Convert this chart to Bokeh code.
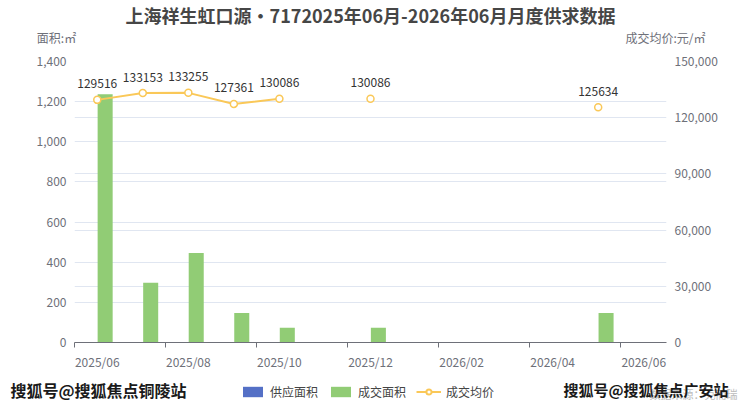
from bokeh.plotting import figure
from bokeh.layouts import column
from bokeh.models import (ColumnDataSource, Range1d, LinearAxis, FixedTicker, NumeralTickFormatter,
                          Grid, Label, Legend, LegendItem)
from bokeh.core.properties import value
from bokeh.transform import dodge
from bokeh.embed import file_html
from bokeh.resources import INLINE

months = ["2025/06", "2025/07", "2025/08", "2025/09", "2025/10", "2025/11", "2025/12",
          "2026/01", "2026/02", "2026/03", "2026/04", "2026/05", "2026/06"]
supply_area = [0, 0, 0, 0, 0, 0, 0, 0, 0, 0, 0, 0, 0]
deal_area = [1237, 298, 446, 147, 73, 0, 73, 0, 0, 0, 0, 147, 0]
avg_price = [129516, 133153, 133255, 127361, 130086, None, 130086, None, None, None, None, 125634, None]
left_ticks = [0, 200, 400, 600, 800, 1000, 1200, 1400]
right_ticks = [0, 30000, 60000, 90000, 120000, 150000]

TITLE = "上海祥生虹口源•7172025年06月-2026年06月月度供求数据"
LEFT_NAME = "面积:㎡"
RIGHT_NAME = "成交均价:元/㎡"
SERIES = ["供应面积", "成交面积", "成交均价"]
WM_LEFT = "搜狐号@搜狐焦点铜陵站"
WM_RIGHT = "搜狐号@搜狐焦点广安站"
SOURCE = "数据来源：克而瑞"

FONT = "Noto Sans CJK SC"
AXIS_C = "#6E7079"
GRID_C = "#E0E6F1"
BLUE, GREEN, YELLOW = "#5470c6", "#91cc75", "#fac858"
W = 740


def blank(height):
    f = figure(width=W, height=height, output_backend="svg", toolbar_location=None,
               x_range=Range1d(0, W), y_range=Range1d(0, height),
               x_axis_type=None, y_axis_type=None, frame_align=False,
               min_border_left=0, min_border_right=0, min_border_top=0, min_border_bottom=0)
    f.outline_line_color = None
    f.grid.visible = False
    return f


def lab(f, x, y, t, size, color, align="center", bold=False):
    f.add_layout(Label(x=x, y=y, text=t, text_font=FONT, text_font_size=size,
                       text_color=color, text_align=align, text_baseline="middle",
                       text_font_style="bold" if bold else "normal"))


# ---- top strip: title + axis names
top = blank(50)
lab(top, 370, 36, TITLE, "18px", "#464646", bold=True)
lab(top, 56, 13, LEFT_NAME, "12px", AXIS_C)
lab(top, 665, 13, RIGHT_NAME, "12px", AXIS_C)

# ---- main chart
idx = list(range(len(months)))
price_vals = [float("nan") if v is None else v for v in avg_price]
price_txt = ["" if v is None else str(v) for v in avg_price]
src = ColumnDataSource(dict(x=idx, supply=supply_area, deal=deal_area,
                            price=price_vals, ptxt=price_txt))

p = figure(width=W, height=322, output_backend="svg", toolbar_location=None,
           x_range=Range1d(-0.5, len(months) - 0.5), y_range=Range1d(0, 1400), frame_align=False,
           min_border_left=74, min_border_right=74, min_border_top=11, min_border_bottom=27)
p.outline_line_color = None
p.extra_y_ranges = {"price": Range1d(0, 150000)}

xa = p.xaxis[0]
xa.ticker = FixedTicker(ticks=idx[::2], minor_ticks=[i - 0.5 for i in idx[::2]])
xa.major_label_overrides = {i: months[i] for i in idx[::2]}
xa.major_tick_line_color = None
xa.major_tick_out = 0
xa.major_tick_in = 0
xa.minor_tick_line_color = AXIS_C
xa.minor_tick_out = 5
xa.minor_tick_in = 0
xa.axis_line_color = AXIS_C
xa.major_label_text_color = AXIS_C
xa.major_label_text_font = FONT
xa.major_label_text_font_size = "12px"
xa.major_label_standoff = 5

ya = p.yaxis[0]
ya.ticker = FixedTicker(ticks=left_ticks)
ya.formatter = NumeralTickFormatter(format="0,0")
ra = LinearAxis(y_range_name="price", ticker=FixedTicker(ticks=right_ticks),
                formatter=NumeralTickFormatter(format="0,0"))
p.add_layout(ra, "right")
for a in (ya, ra):
    a.axis_line_color = None
    a.major_tick_line_color = None
    a.major_tick_out = 0
    a.major_tick_in = 0
    a.minor_tick_line_color = None
    a.major_label_text_color = AXIS_C
    a.major_label_text_font = FONT
    a.major_label_text_font_size = "12px"
    a.major_label_standoff = 8

p.xgrid.visible = False
p.ygrid.ticker = FixedTicker(ticks=left_ticks)
p.ygrid.grid_line_color = GRID_C
p.add_layout(Grid(dimension=1, ticker=FixedTicker(ticks=right_ticks), y_range_name="price",
                  grid_line_color=GRID_C))

off, bw = 0.173, 0.33
p.vbar(x=dodge("x", -off, range=p.x_range), top="supply", width=bw, source=src,
       fill_color=BLUE, line_color=None)
p.vbar(x=dodge("x", off, range=p.x_range), top="deal", width=bw, source=src,
       fill_color=GREEN, line_color=None)
p.line("x", "price", source=src, y_range_name="price", line_color=YELLOW, line_width=2)
p.scatter("x", "price", source=src, y_range_name="price", size=7, fill_color="white",
          line_color=YELLOW, line_width=1.5)
p.text("x", "price", text="ptxt", source=src, y_range_name="price", text_align="center",
       text_baseline="middle", y_offset=-16, text_font=value(FONT), text_font_size="12px",
       text_color="#333333")

# ---- bottom strip: legend + watermarks
bot = blank(34)
swatch = ColumnDataSource(dict(x=[-1000], y=[0]))  # off-screen swatch source for legend glyphs
g1 = bot.vbar(x="x", top="y", width=1, source=swatch, fill_color=BLUE, line_color=None)
g2 = bot.vbar(x="x", top="y", width=1, source=swatch, fill_color=GREEN, line_color=None)
g3 = bot.line("x", "y", source=swatch, line_color=YELLOW, line_width=2)
g4 = bot.scatter("x", "y", source=swatch, size=9, fill_color="white", line_color=YELLOW, line_width=2)
legend = Legend(items=[LegendItem(label=SERIES[0], renderers=[g1]),
                       LegendItem(label=SERIES[1], renderers=[g2]),
                       LegendItem(label=SERIES[2], renderers=[g3, g4])],
                orientation="horizontal", location=(240, 6), padding=0, margin=0,
                glyph_width=25, glyph_height=13, spacing=10, label_standoff=5,
                label_text_font=FONT, label_text_font_size="12px", label_text_color="#444444",
                background_fill_alpha=0, border_line_color=None)
bot.add_layout(legend, "center")
lab(bot, 737, 13, SOURCE, "11px", "#bbbbbb", align="right")
lab(bot, 10, 17, WM_LEFT, "16px", "#1a1a1a", align="left", bold=True)
lab(bot, 563, 17, WM_RIGHT, "15px", "#1a1a1a", align="left", bold=True)

open("out.html", "w").write(file_html(column(top, p, bot, spacing=0), INLINE))
